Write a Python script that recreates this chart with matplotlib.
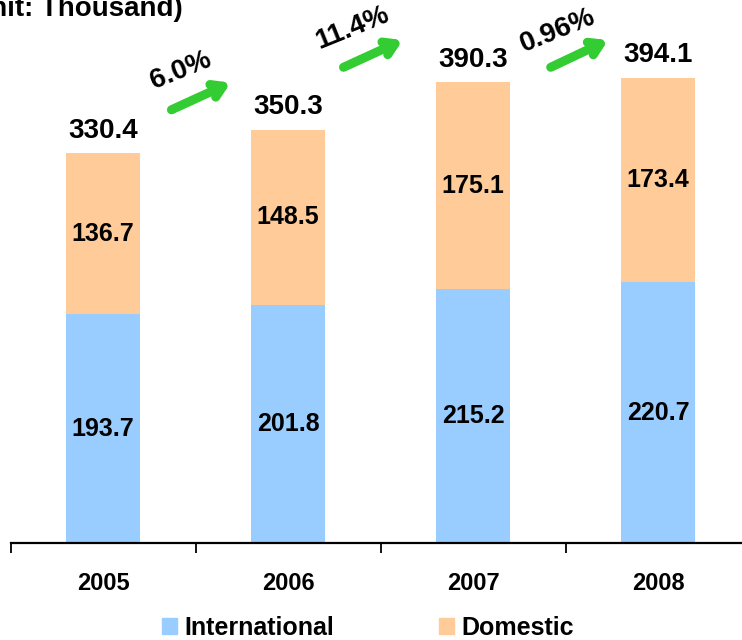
import matplotlib.pyplot as plt
from matplotlib.patches import Rectangle

years = ["2005", "2006", "2007", "2008"]
international = [193.7, 201.8, 215.2, 220.7]
domestic = [136.7, 148.5, 175.1, 173.4]
totals = [330.4, 350.3, 390.3, 394.1]
growth = ["6.0%", "11.4%", "0.96%"]

blue = "#99CCFF"
orange = "#FFCC99"
green = "#33CC33"

plt.rcParams["font.family"] = ["Liberation Sans", "DejaVu Sans"]
plt.rcParams["font.weight"] = "bold"

fig = plt.figure(figsize=(7.42, 6.4), dpi=100)
ax = fig.add_axes([10.5 / 742, 97 / 640, 740 / 742, 543 / 640])

x = range(len(years))
ax.bar(x, international, width=0.4, color=blue)
ax.bar(x, domestic, width=0.4, bottom=international, color=orange)

for i in x:
    ax.text(i, international[i] / 2, "{:.1f}".format(international[i]),
            ha="center", va="center", fontsize=18, fontweight="bold")
    ax.text(i, international[i] + domestic[i] / 2, "{:.1f}".format(domestic[i]),
            ha="center", va="center", fontsize=18, fontweight="bold")
    ax.text(i, totals[i] + 8, "{:.1f}".format(totals[i]),
            ha="center", va="bottom", fontsize=20, fontweight="bold")

# growth arrows between years
arrow_x = [(0.37, 0.69), (1.30, 1.62), (2.42, 2.73)]
arrow_y = [(367, 390), (403, 426), (403, 426)]
label_pos = [(0.42, 400), (1.35, 436), (2.46, 434)]
for g, ax_, ay_, lp in zip(growth, arrow_x, arrow_y, label_pos):
    ax.annotate("", xy=(ax_[1], ay_[1]), xytext=(ax_[0], ay_[0]),
                arrowprops=dict(arrowstyle="->,head_length=0.8,head_width=0.5",
                                color=green, lw=6.5, capstyle="round",
                                joinstyle="round", shrinkA=0, shrinkB=0),
                annotation_clip=False)
    ax.text(lp[0], lp[1], g, ha="center", va="center", rotation=22,
            fontsize=20, fontweight="bold", clip_on=False)

ax.set_xlim(-0.5, 3.5)
ax.set_ylim(0, 543 / 1.1804)

for s in ["left", "right", "top"]:
    ax.spines[s].set_visible(False)
ax.spines["bottom"].set_linewidth(1.6)
ax.set_yticks([])

ax.set_xticks([-0.5, 0.5, 1.5, 2.5, 3.5])
ax.set_xticklabels([])
ax.tick_params(axis="x", which="major", direction="out", length=7.5, width=1.3)
ax.set_xticks(list(x), minor=True)
ax.set_xticklabels(years, minor=True, fontsize=17, fontweight="bold")
ax.tick_params(axis="x", which="minor", length=0, pad=21)

fig.text(183 / 742, 1 - 16 / 640, "(Unit: Thousand)", ha="right", va="baseline",
         fontsize=20, fontweight="bold")

handles = [Rectangle((0, 0), 1, 1, color=blue), Rectangle((0, 0), 1, 1, color=orange)]
fig.legend(handles, ["International", "Domestic"], loc="center",
           bbox_to_anchor=(368 / 742, 12 / 640), ncol=2, frameon=False,
           prop={"size": 18, "weight": "bold"}, handlelength=0.6,
           handleheight=0.6, handletextpad=0.3, columnspacing=4.2,
           borderpad=0, borderaxespad=0)

fig.savefig("out.png", dpi=100)
